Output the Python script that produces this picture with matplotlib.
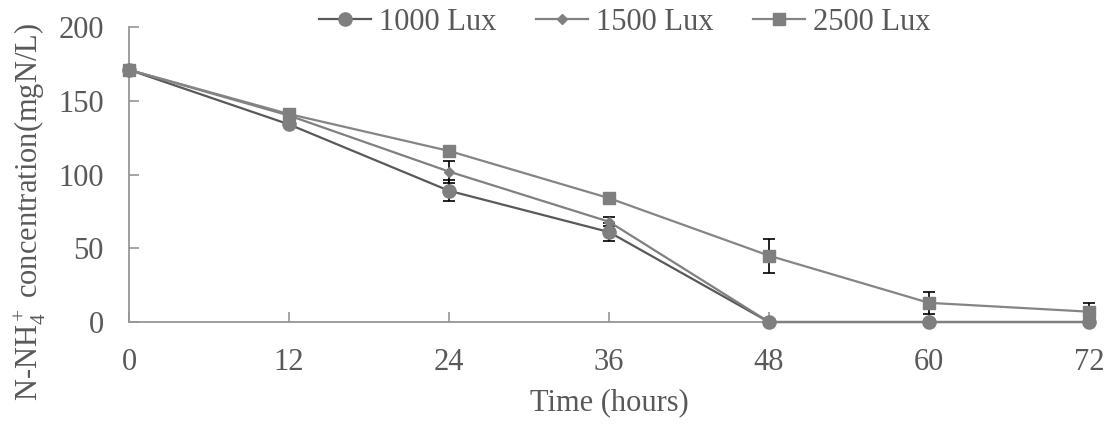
import matplotlib
matplotlib.use("Agg")
import matplotlib.pyplot as plt

plt.rcParams['font.family'] = ['Liberation Serif', 'DejaVu Serif']
plt.rcParams['mathtext.fontset'] = 'custom'
plt.rcParams['mathtext.rm'] = 'Liberation Serif'
plt.rcParams['mathtext.it'] = 'Liberation Serif:italic'

hours = [0, 12, 24, 36, 48, 60, 72]
lux1000 = [171, 134, 89, 61, 0, 0, 0]
lux1000_err = [0, 0, 7, 6, 0, 0, 0]
lux1500 = [171, 140, 102, 68, 0, 0, 0]
lux1500_err = [0, 0, 7.5, 3, 0, 0, 0]
lux2500 = [171, 141, 116, 84, 45, 13, 7]
lux2500_err = [0, 0, 0, 0, 11.5, 7.5, 6]
labels = ['1000 Lux', '1500 Lux', '2500 Lux']

txt = '#595959'
fs = 22
fig = plt.figure(figsize=(11.11, 4.29), dpi=100)
ax = fig.add_axes([0.1161, 0.2494, 0.8641, 0.6876])

series = [
    (lux1000, lux1000_err, 'o', 9.5, '#595959', '#7f7f7f'),
    (lux1500, lux1500_err, 'D', 4.8, '#808080', '#7f7f7f'),
    (lux2500, lux2500_err, 's', 8.4, '#858585', '#7f7f7f'),
]
for (vals, err, mk, ms, lc, mc), lab in zip(series, labels):
    ax.errorbar(hours, vals, yerr=err, fmt='none', ecolor='black',
                elinewidth=1.2, capsize=4.5, capthick=1.2, clip_on=False, zorder=2)
    ax.plot(hours, vals, color=lc, lw=1.6, marker=mk, ms=ms, mfc=mc, mec=mc,
            label=lab, clip_on=False, zorder=3)

ax.set_xlim(0, 72)
ax.set_ylim(0, 200)
ax.set_xticks(hours)
ax.set_yticks([0, 50, 100, 150, 200])
for s in ['top', 'right']:
    ax.spines[s].set_visible(False)
for s in ['left', 'bottom']:
    ax.spines[s].set_color('#969696')
    ax.spines[s].set_linewidth(1.3)
ax.tick_params(direction='in', length=7, width=1.2, color='#969696',
               labelsize=fs, labelcolor=txt)
ax.tick_params(axis='y', pad=18)
ax.tick_params(axis='x', pad=19)
ax.set_xlabel('Time (hours)', fontsize=fs, color=txt, labelpad=8)
fig.text(30 / 1111, 1 - 212 / 429, 'N-NH$_4^+$ concentration(mgN/L)',
         rotation=90, ha='center', va='center', fontsize=fs, color=txt)

leg = ax.legend(loc='center', bbox_to_anchor=(625 / 1111, 1 - 22 / 429),
                bbox_transform=fig.transFigure, ncol=3,
                frameon=False, fontsize=fs, handlelength=1.7, handletextpad=0.26,
                columnspacing=1.3, labelcolor=txt, borderpad=0, borderaxespad=0)

fig.savefig('out.png', dpi=100)
